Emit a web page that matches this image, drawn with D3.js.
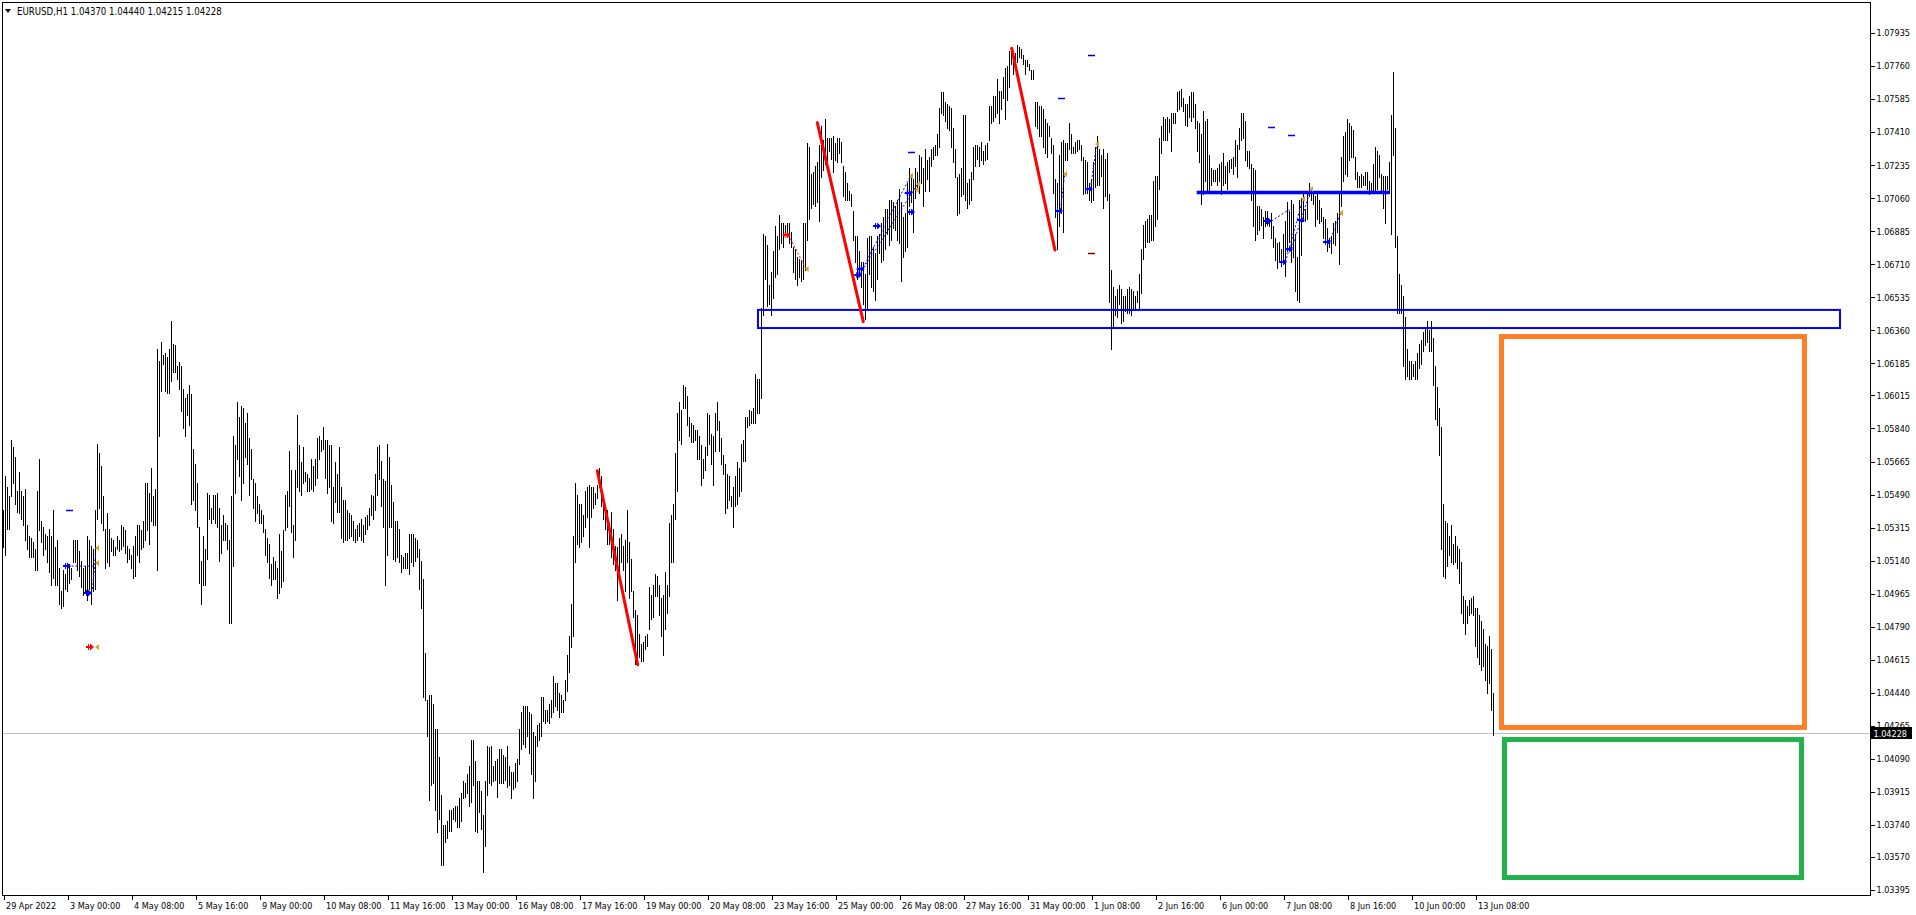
<!DOCTYPE html>
<html><head><meta charset="utf-8">
<script src="https://cdn.jsdelivr.net/npm/d3@7"></script>
<style>
html,body{margin:0;padding:0;background:#fff;overflow:hidden}
svg{display:block}
text{font-family:"DejaVu Sans Condensed","DejaVu Sans",sans-serif;font-size:9px;fill:#000}
text.hdr{font-size:9.6px}
</style></head><body>
<svg id="c" width="1916" height="915"></svg>
<script>
// ---------------- data ----------------
const symbol = "EURUSD,H1";
const lastOHLC = [1.04370, 1.04440, 1.04215, 1.04228];
const currentPrice = 1.04228;
const timeLabels = ["29 Apr 2022","3 May 00:00","4 May 08:00","5 May 16:00","9 May 00:00","10 May 08:00","11 May 16:00","13 May 00:00","16 May 08:00","17 May 16:00","19 May 00:00","20 May 08:00","23 May 16:00","25 May 00:00","26 May 08:00","27 May 16:00","31 May 00:00","1 Jun 08:00","2 Jun 16:00","6 Jun 00:00","7 Jun 08:00","8 Jun 16:00","10 Jun 00:00","13 Jun 08:00"];
const barsPerLabel = 32;
const priceTicks = ["1.07935","1.07760","1.07585","1.07410","1.07235","1.07060","1.06885","1.06710","1.06535","1.06360","1.06185","1.06015","1.05840","1.05665","1.05490","1.05315","1.05140","1.04965","1.04790","1.04615","1.04440","1.04265","1.04090","1.03915","1.03740","1.03570","1.03395"];

const highs = [
1.0541,1.0559,1.0553,1.0548,1.0578,1.0574,1.0569,1.0551,1.0561,1.0551,
1.0548,1.0552,1.0533,1.0527,1.0526,1.0524,1.0520,1.0551,1.0568,1.0535,
1.0532,1.0528,1.0527,1.0531,1.0527,1.0541,1.0521,1.0525,1.0510,1.0498,
1.0509,1.0507,1.0512,1.0512,1.0510,1.0525,1.0525,1.0525,1.0519,1.0514,
1.0510,1.0511,1.0527,1.0525,1.0522,1.0520,1.0541,1.0576,1.0571,1.0564,
1.0548,1.0531,1.0539,1.0531,1.0526,1.0525,1.0521,1.0527,1.0525,1.0533,
1.0532,1.0530,1.0522,1.0520,1.0517,1.0522,1.0527,1.0533,1.0533,1.0530,
1.0535,1.0555,1.0555,1.0550,1.0563,1.0548,1.0552,1.0626,1.0620,1.0630,
1.0623,1.0624,1.0622,1.0626,1.0641,1.0629,1.0628,1.0617,1.0619,1.0617,
1.0605,1.0600,1.0602,1.0607,1.0602,1.0573,1.0565,1.0555,1.0532,1.0514,
1.0527,1.0520,1.0550,1.0549,1.0542,1.0549,1.0549,1.0550,1.0542,1.0533,
1.0538,1.0534,1.0533,1.0525,1.0548,1.0580,1.0575,1.0598,1.0590,1.0596,
1.0595,1.0587,1.0592,1.0579,1.0573,1.0557,1.0555,1.0548,1.0544,1.0541,
1.0538,1.0531,1.0526,1.0523,1.0512,1.0516,1.0514,1.0510,1.0528,1.0519,
1.0530,1.0549,1.0551,1.0572,1.0562,1.0533,1.0562,1.0591,1.0575,1.0566,
1.0574,1.0561,1.0560,1.0558,1.0568,1.0564,1.0568,1.0579,1.0580,1.0578,
1.0585,1.0578,1.0578,1.0575,1.0575,1.0553,1.0566,1.0560,1.0574,1.0553,
1.0546,1.0546,1.0541,1.0539,1.0538,1.0535,1.0531,1.0533,1.0534,1.0536,
1.0533,1.0537,1.0538,1.0542,1.0549,1.0548,
1.0560,1.0574,1.0575,1.0567,1.0557,1.0556,1.0576,1.0569,1.0554,1.0545,
1.0535,1.0535,1.0531,1.0517,1.0516,1.0518,1.0518,1.0528,1.0528,1.0528,
1.0526,1.0525,1.0520,1.0514,1.0504,1.0465,1.0440,1.0443,1.0443,1.0438,
1.0425,1.0425,1.0410,1.0390,1.0374,1.0374,1.0376,1.0382,1.0382,1.0383,
1.0384,1.0384,1.0388,1.0391,1.0397,1.0396,1.0401,1.0405,1.0419,1.0419,
1.0408,1.0397,1.0397,1.0392,1.0379,1.0397,1.0416,1.0415,1.0416,1.0405,
1.0408,1.0409,1.0414,1.0414,1.0411,1.0410,1.0416,1.0405,1.0402,1.0402,
1.0407,1.0409,1.0425,1.0434,1.0437,1.0437,1.0437,1.0434,1.0433,1.0423,
1.0421,1.0427,1.0428,1.0442,1.0442,1.0435,1.0435,1.0438,1.0440,1.0453,
1.0449,1.0449,1.0444,1.0443,1.0440,1.0451,1.0464,1.0474,1.0491,1.0527,
1.0555,1.0549,1.0544,1.0544,1.0538,1.0551,1.0553,1.0554,1.0553,1.0553,
1.0550,1.0554,1.0563,1.0559,1.0544,1.0543,1.0541,1.0534,1.0540,1.0531,
1.0522,1.0521,1.0526,1.0528,1.0522,1.0525,1.0541,1.0524,1.0515,1.0498,
1.0488,1.0485,1.0475,1.0470,1.0471,1.0474,1.0475,1.0500,1.0496,1.0501,
1.0507,1.0506,1.0501,1.0494,1.0496,1.0508,1.0501,1.0534,1.0538,1.0544,
1.0571,1.0592,1.0598,1.0594,1.0607,1.0606,1.0601,1.0590,1.0587,1.0586,
1.0583,1.0583,1.0580,1.0575,1.0568,1.0574,1.0592,1.0591,1.0581,1.0580,
1.0592,1.0598,1.0588,1.0579,1.0570,1.0565,1.0560,1.0559,1.0548,1.0553,
1.0559,1.0566,1.0563,1.0576,1.0578,1.0590,1.0590,1.0594,
1.0593,1.0595,1.0613,1.0610,1.0610,1.0648,
1.0687,1.0686,1.0681,1.0660,1.0667,1.0678,1.0691,1.0686,1.0697,1.0693,
1.0693,1.0692,1.0693,1.0693,1.0688,1.0680,1.0679,1.0675,1.0674,1.0673,
1.0693,1.0693,1.0735,1.0733,1.0719,1.0720,1.0723,1.0725,1.0734,1.0744,
1.0737,1.0748,1.0738,1.0738,1.0738,1.0739,1.0735,1.0738,1.0738,1.0736,
1.0723,1.0720,1.0714,1.0710,1.0708,1.0699,1.0686,1.0686,1.0678,1.0672,
1.0672,1.0666,1.0685,1.0686,1.0686,1.0680,1.0677,1.0686,1.0687,1.0693,
1.0696,1.0700,1.0700,1.0705,1.0705,1.0704,1.0702,1.0705,1.0711,1.0704,
1.0696,1.0698,1.0714,1.0722,1.0719,1.0716,1.0722,1.0720,1.0729,1.0728,
1.0722,1.0732,1.0726,1.0728,1.0732,1.0733,1.0734,1.0740,1.0754,1.0762,
1.0762,1.0757,1.0756,1.0755,1.0754,1.0743,1.0732,1.0717,1.0719,1.0722,
1.0750,1.0750,1.0714,1.0716,1.0720,1.0733,1.0734,1.0734,1.0733,1.0736,
1.0731,1.0734,1.0735,1.0755,1.0755,1.0760,1.0760,1.0769,1.0763,1.0763,
1.0770,1.0775,1.0776,1.0784,1.0786,1.0782,1.0783,1.0787,1.0786,1.0785,
1.0782,1.0779,1.0779,1.0777,1.0774,1.0774,1.0757,1.0757,1.0755,1.0755,
1.0753,1.0748,1.0746,1.0744,1.0738,1.0734,1.0716,1.0714,1.0729,1.0736,
1.0737,1.0735,1.0735,1.0746,1.0740,1.0733,1.0736,1.0737,1.0737,1.0734,
1.0728,1.0726,1.0725,1.0714,1.0716,1.0725,1.0733,1.0739,1.0732,1.0729,
1.0732,1.0727,1.0730,1.0708,1.0668,1.0659,1.0654,1.0658,1.0660,1.0658,
1.0654,
1.0654,1.0658,1.0659,1.0658,1.0657,1.0654,1.0657,1.0666,1.0679,1.0692,
1.0694,1.0695,1.0697,1.0697,1.0715,1.0718,1.0718,1.0738,1.0744,1.0749,
1.0748,1.0749,1.0748,1.0751,1.0751,1.0751,1.0762,1.0763,1.0764,1.0759,
1.0756,1.0756,1.0760,1.0762,1.0762,1.0756,1.0747,1.0746,1.0740,1.0752,
1.0747,1.0748,1.0729,1.0722,1.0721,1.0721,1.0722,1.0724,1.0725,1.0730,
1.0723,1.0725,1.0726,1.0727,1.0728,1.0737,1.0734,1.0743,1.0751,1.0751,
1.0747,1.0731,1.0731,1.0724,1.0722,1.0721,1.0702,1.0702,1.0700,1.0696,
1.0699,1.0699,1.0695,1.0698,1.0691,1.0685,1.0682,1.0683,1.0679,1.0687,
1.0694,1.0704,1.0699,1.0705,1.0703,1.0687,1.0675,1.0705,1.0706,1.0708,
1.0700,1.0709,1.0714,1.0711,1.0708,1.0707,1.0708,1.0705,1.0701,1.0696,
1.0695,1.0690,1.0685,1.0686,1.0693,1.0694,1.0698,1.0709,1.0728,1.0739,
1.0741,1.0748,1.0746,1.0744,1.0742,1.0728,1.0720,1.0718,1.0719,1.0718,
1.0720,1.0720,1.0715,1.0714,1.0724,1.0733,1.0731,1.0729,1.0719,1.0718,
1.0718,1.0718,1.0725,1.0750,1.0773,1.0743,1.0686,1.0666,1.0660,1.0654,
1.0643,1.0626,1.0620,1.0620,1.0618,1.0620,1.0624,1.0629,1.0631,1.0635,
1.0637,1.0641,1.0636,1.0641,1.0632,1.0617,1.0606,1.0595,1.0585,1.0544,
1.0535,1.0534,1.0527,1.0533,1.0523,1.0527,1.0522,1.0520,1.0513,1.0495,
1.0493,1.0490,1.0493,1.0494,1.0495,1.0489,1.0489,1.0485,1.0482,1.0478,
1.0470,1.0469,1.0474,1.0467,1.0444
];
const lows = [
1.0521,1.0517,1.0531,1.0531,1.0548,1.0555,1.0544,1.0540,1.0539,1.0536,
1.0533,1.0525,1.0520,1.0516,1.0516,1.0516,1.0509,1.0509,1.0530,1.0524,
1.0517,1.0520,1.0513,1.0508,1.0501,1.0505,1.0501,1.0501,1.0491,1.0489,
1.0490,1.0499,1.0498,1.0502,1.0504,1.0513,1.0513,1.0509,1.0506,1.0500,
1.0496,1.0497,1.0493,1.0499,1.0491,1.0498,1.0499,1.0536,1.0542,1.0534,
1.0530,1.0510,1.0513,1.0511,1.0519,1.0517,1.0517,1.0520,1.0519,1.0520,
1.0522,1.0518,1.0513,1.0515,1.0510,1.0505,1.0506,1.0517,1.0513,1.0520,
1.0521,1.0525,1.0530,1.0523,1.0535,1.0533,1.0533,1.0509,1.0580,1.0604,
1.0618,1.0604,1.0603,1.0603,1.0609,1.0614,1.0614,1.0610,1.0605,1.0593,
1.0584,1.0580,1.0591,1.0586,1.0544,1.0546,1.0541,1.0532,1.0502,1.0491,
1.0501,1.0501,1.0515,1.0536,1.0534,1.0536,1.0534,1.0532,1.0514,1.0518,
1.0525,1.0525,1.0520,1.0481,1.0481,1.0511,1.0550,1.0568,1.0559,1.0546,
1.0555,1.0569,1.0565,1.0549,1.0557,1.0542,1.0535,1.0539,1.0534,1.0534,
1.0529,1.0517,1.0513,1.0505,1.0501,1.0504,1.0504,1.0494,1.0497,1.0500,
1.0503,1.0530,1.0532,1.0543,1.0529,1.0516,1.0525,1.0553,1.0551,1.0549,
1.0555,1.0556,1.0551,1.0551,1.0552,1.0551,1.0554,1.0558,1.0568,1.0572,
1.0573,1.0558,1.0550,1.0553,1.0535,1.0534,1.0545,1.0540,1.0540,1.0526,
1.0524,1.0525,1.0525,1.0526,1.0527,1.0525,1.0524,1.0525,1.0527,1.0525,
1.0524,1.0528,1.0531,1.0533,1.0538,1.0536,
1.0541,1.0549,1.0557,1.0543,1.0532,1.0501,1.0517,1.0532,1.0532,1.0515,
1.0514,1.0516,1.0513,1.0508,1.0510,1.0510,1.0510,1.0507,1.0513,1.0511,
1.0514,1.0516,1.0499,1.0489,1.0442,1.0440,1.0421,1.0387,1.0395,1.0396,
1.0382,1.0370,1.0377,1.0353,1.0353,1.0365,1.0367,1.0371,1.0371,1.0377,
1.0376,1.0373,1.0373,1.0376,1.0388,1.0389,1.0391,1.0384,1.0386,1.0395,
1.0371,1.0370,1.0381,1.0372,1.0349,1.0363,1.0390,1.0396,1.0395,1.0397,
1.0398,1.0389,1.0396,1.0396,1.0396,1.0398,1.0394,1.0395,1.0388,1.0393,
1.0394,1.0397,1.0406,1.0414,1.0417,1.0415,1.0421,1.0412,1.0401,1.0388,
1.0397,1.0416,1.0419,1.0421,1.0429,1.0428,1.0429,1.0428,1.0431,1.0434,
1.0437,1.0435,1.0431,1.0434,1.0434,1.0440,1.0445,1.0455,1.0468,1.0474,
1.0513,1.0523,1.0521,1.0524,1.0527,1.0532,1.0537,1.0521,1.0537,1.0542,
1.0544,1.0547,1.0553,1.0543,1.0536,1.0531,1.0523,1.0523,1.0516,1.0512,
1.0509,1.0493,1.0504,1.0513,1.0509,1.0498,1.0513,1.0494,1.0498,1.0484,
1.0459,1.0461,1.0463,1.0461,1.0461,1.0467,1.0469,1.0478,1.0483,1.0484,
1.0495,1.0495,1.0485,1.0474,1.0464,1.0478,1.0486,1.0495,1.0513,1.0513,
1.0536,1.0551,1.0578,1.0576,1.0595,1.0595,1.0586,1.0580,1.0577,1.0577,
1.0578,1.0568,1.0568,1.0554,1.0558,1.0562,1.0570,1.0576,1.0565,1.0554,
1.0572,1.0583,1.0572,1.0565,1.0560,1.0539,1.0542,1.0546,1.0543,1.0532,
1.0543,1.0544,1.0548,1.0551,1.0567,1.0567,1.0585,1.0586,
1.0587,1.0587,1.0587,1.0592,1.0592,1.0600,
1.0644,1.0663,1.0649,1.0650,1.0644,1.0653,1.0664,1.0666,1.0679,1.0682,
1.0680,1.0687,1.0686,1.0682,1.0680,1.0667,1.0663,1.0660,1.0664,1.0662,
1.0663,1.0668,1.0684,1.0695,1.0701,1.0703,1.0702,1.0704,1.0694,1.0717,
1.0721,1.0724,1.0725,1.0731,1.0727,1.0720,1.0726,1.0725,1.0730,1.0725,
1.0707,1.0705,1.0705,1.0705,1.0702,1.0684,1.0672,1.0663,1.0666,1.0659,
1.0650,1.0642,1.0647,1.0666,1.0659,1.0657,1.0652,1.0663,1.0677,1.0672,
1.0673,1.0679,1.0687,1.0681,1.0684,1.0690,1.0689,1.0684,1.0682,1.0662,
1.0675,1.0678,1.0680,1.0702,1.0704,1.0688,1.0706,1.0712,1.0709,1.0714,
1.0702,1.0710,1.0716,1.0710,1.0723,1.0727,1.0729,1.0729,1.0733,1.0751,
1.0750,1.0747,1.0743,1.0742,1.0733,1.0725,1.0717,1.0697,1.0698,1.0707,
1.0708,1.0705,1.0701,1.0703,1.0705,1.0716,1.0723,1.0727,1.0723,1.0726,
1.0724,1.0726,1.0727,1.0737,1.0746,1.0747,1.0749,1.0751,1.0746,1.0753,
1.0759,1.0748,1.0758,1.0765,1.0777,1.0772,1.0774,1.0778,1.0781,1.0780,
1.0777,1.0772,1.0776,1.0774,1.0769,1.0769,1.0744,1.0743,1.0739,1.0739,
1.0733,1.0730,1.0728,1.0739,1.0730,1.0709,1.0696,1.0679,1.0691,1.0698,
1.0688,1.0726,1.0726,1.0732,1.0730,1.0730,1.0730,1.0731,1.0732,1.0726,
1.0708,1.0709,1.0709,1.0705,1.0704,1.0705,1.0712,1.0713,1.0713,1.0718,
1.0701,1.0707,1.0705,1.0651,1.0626,1.0637,1.0644,1.0643,1.0650,1.0640,
1.0641,
1.0646,1.0645,1.0645,1.0644,1.0647,1.0647,1.0651,1.0648,1.0656,1.0674,
1.0680,1.0683,1.0683,1.0684,1.0684,1.0691,1.0695,1.0711,1.0730,1.0737,
1.0737,1.0737,1.0741,1.0731,1.0746,1.0746,1.0752,1.0753,1.0755,1.0752,
1.0745,1.0744,1.0749,1.0747,1.0749,1.0743,1.0731,1.0725,1.0703,1.0708,
1.0715,1.0709,1.0710,1.0713,1.0715,1.0715,1.0713,1.0715,1.0708,1.0713,
1.0714,1.0711,1.0720,1.0722,1.0719,1.0723,1.0717,1.0732,1.0737,1.0738,
1.0726,1.0723,1.0722,1.0705,1.0691,1.0684,1.0687,1.0689,1.0692,1.0685,
1.0691,1.0692,1.0691,1.0685,1.0680,1.0673,1.0669,1.0672,1.0670,1.0673,
1.0665,1.0679,1.0683,1.0672,1.0675,1.0657,1.0652,1.0651,1.0676,1.0694,
1.0694,1.0695,1.0707,1.0705,1.0703,1.0691,1.0695,1.0693,1.0694,1.0685,
1.0683,1.0678,1.0680,1.0677,1.0682,1.0681,1.0688,1.0671,1.0702,1.0715,
1.0719,1.0718,1.0726,1.0728,1.0728,1.0716,1.0712,1.0712,1.0712,1.0713,
1.0713,1.0711,1.0708,1.0709,1.0710,1.0709,1.0711,1.0717,1.0710,1.0701,
1.0693,1.0711,1.0710,1.0687,1.0729,1.0680,1.0645,1.0645,1.0645,1.0617,
1.0610,1.0612,1.0610,1.0610,1.0612,1.0610,1.0610,1.0616,1.0618,1.0625,
1.0628,1.0630,1.0625,1.0625,1.0607,1.0589,1.0586,1.0570,1.0520,1.0506,
1.0505,1.0511,1.0517,1.0513,1.0512,1.0513,1.0510,1.0502,1.0486,1.0481,
1.0475,1.0481,1.0485,1.0486,1.0485,1.0469,1.0463,1.0459,1.0456,1.0458,
1.0451,1.0444,1.0449,1.0435,1.04215
];

// drawn objects, anchored in bar index / price
const trendLines = [ // red
  {i0:296.9, p0:1.05616, i1:317.1, p1:1.04588},
  {i0:406.9, p0:1.07460, i1:429.9, p1:1.06406},
  {i0:504.1, p0:1.07854, i1:525.75, p1:1.06785}
];
const zoneRect = {i0:377.25, i1:918.25, p0:1.06468, p1:1.06372};
const levelLine = {i0:596.6, i1:693.25, p:1.0709};
const orangeBox = {i0:749, i1:900.5, p0:1.06327, p1:1.04256};
const greenBox = {i0:750.5, i1:899, p0:1.04192, p1:1.03461};
const dashes = [
  {i0:31.25,i1:34.75,p:1.05408,c:"#0000FF"},
  {i0:452.25,i1:455.75,p:1.07305,c:"#0000FF"},
  {i0:527.25,i1:530.75,p:1.07591,c:"#0000FF"},
  {i0:542.25,i1:545.75,p:1.07818,c:"#000080"},
  {i0:542.25,i1:545.75,p:1.06770,c:"#800000"},
  {i0:632.25,i1:635.75,p:1.07437,c:"#0000FF"},
  {i0:642.25,i1:645.75,p:1.07395,c:"#0000FF"}
];
const arrows = [ // right pointing arrows
  {i:31.75,p:1.05111,c:"#0000FF"},{i:42.25,p:1.04968,c:"#0000FF"},{i:43.25,p:1.04682,c:"#FF0000"},
  {i:391.6,p:1.06865,c:"#FF0000"},
  {i:428.6,p:1.06685,c:"#0000FF"},{i:427.4,p:1.06653,c:"#0000FF"},{i:436.75,p:1.06913,c:"#0000FF"},
  {i:452.6,p:1.07087,c:"#0000FF"},{i:453.75,p:1.06987,c:"#0000FF"},
  {i:527.75,p:1.06992,c:"#0000FF"},{i:542.75,p:1.07109,c:"#0000FF"},
  {i:632.25,p:1.06939,c:"#0000FF"},{i:639.75,p:1.06722,c:"#0000FF"},{i:642.75,p:1.06791,c:"#0000FF"},
  {i:648.75,p:1.06944,c:"#0000FF"},{i:661.75,p:1.06828,c:"#0000FF"}
];
const flags = [ // gold left triangles
  {i:46.75,p:1.05207},{i:46.75,p:1.05127},{i:46.75,p:1.04682},
  {i:401.6,p:1.06685},{i:453.75,p:1.07177},{i:457.4,p:1.07135},{i:456.6,p:1.07103},
  {i:530.75,p:1.07188},{i:546.75,p:1.07347},
  {i:649.75,p:1.07056},{i:653.75,p:1.07109},{i:668.75,p:1.06981}
];
const dotted = [
  {i0:34,p0:1.05111,i1:46,p1:1.05111,c:"#0000FF"},
  {i0:44.5,p0:1.04990,i1:46,p1:1.05170,c:"#0000FF"},
  {i0:392.5,p0:1.06865,i1:401,p1:1.06690,c:"#FF0000"},
  {i0:429.75,p0:1.06690,i1:453.25,p1:1.07172,c:"#0000FF"},
  {i0:428.25,p0:1.06658,i1:456.75,p1:1.07130,c:"#0000FF"},
  {i0:528.5,p0:1.07000,i1:530.5,p1:1.07180,c:"#0000FF"},
  {i0:543.5,p0:1.07110,i1:546.5,p1:1.07340,c:"#0000FF"},
  {i0:634,p0:1.06939,i1:643,p1:1.07000,c:"#0000FF"},
  {i0:641,p0:1.06722,i1:649.5,p1:1.07050,c:"#0000FF"},
  {i0:644,p0:1.06791,i1:653.5,p1:1.07100,c:"#0000FF"},
  {i0:663,p0:1.06828,i1:668.5,p1:1.06980,c:"#0000FF"}
];

// ---------------- drawing ----------------
const W = 1916, H = 915;
const plotL = 2.5, plotT = 2.5, plotR = 1870.5, plotB = 895.5;
const svg = d3.select("#c");
const x = d3.scaleLinear().domain([0, highs.length - 1]).range([3.5, 3.5 + 2 * (highs.length - 1)]);
const y = d3.scaleLinear().domain([1.03395, 1.07935]).range([890, 33]);

svg.append("rect").attr("width", W).attr("height", H).attr("fill", "#fff");

// current price line
svg.append("line").attr("x1", plotL).attr("x2", plotR).attr("y1", Math.round(y(currentPrice)) + 0.5).attr("y2", Math.round(y(currentPrice)) + 0.5)
  .attr("stroke", "#C0C0C0").attr("stroke-width", 1).attr("shape-rendering", "crispEdges");

// bars
const bars = svg.append("g").attr("shape-rendering", "crispEdges");
bars.selectAll("line").data(highs).join("line")
  .attr("x1", (d, i) => x(i)).attr("x2", (d, i) => x(i))
  .attr("y1", d => Math.round(y(d)))
  .attr("y2", (d, i) => Math.max(Math.round(y(lows[i])), Math.round(y(d)) + 1) + 1)
  .attr("stroke", "#000").attr("stroke-width", 1);

// zone rect
svg.append("rect")
  .attr("x", x(zoneRect.i0)).attr("y", y(zoneRect.p0))
  .attr("width", x(zoneRect.i1) - x(zoneRect.i0)).attr("height", y(zoneRect.p1) - y(zoneRect.p0))
  .attr("fill", "none").attr("stroke", "#0000FF").attr("stroke-width", 2);

// level line
svg.append("line").attr("x1", x(levelLine.i0)).attr("x2", x(levelLine.i1))
  .attr("y1", y(levelLine.p)).attr("y2", y(levelLine.p))
  .attr("stroke", "#0000FF").attr("stroke-width", 3.5);

// orange/green boxes
[[orangeBox, "#FF7F27"], [greenBox, "#22B14C"]].forEach(([b, c]) => {
  svg.append("rect")
    .attr("x", x(b.i0)).attr("y", y(b.p0))
    .attr("width", x(b.i1) - x(b.i0)).attr("height", y(b.p1) - y(b.p0))
    .attr("fill", "none").attr("stroke", c).attr("stroke-width", 5);
});

// red trend lines
svg.append("g").selectAll("line").data(trendLines).join("line")
  .attr("x1", d => x(d.i0)).attr("y1", d => y(d.p0))
  .attr("x2", d => x(d.i1)).attr("y2", d => y(d.p1))
  .attr("stroke", "#FF0000").attr("stroke-width", 3).attr("stroke-linecap", "round");

// dotted connectors
svg.append("g").selectAll("line").data(dotted).join("line")
  .attr("x1", d => x(d.i0)).attr("y1", d => y(d.p0))
  .attr("x2", d => x(d.i1)).attr("y2", d => y(d.p1))
  .attr("stroke", d => d.c).attr("stroke-width", 1).attr("stroke-dasharray", "2,2");

// dashes
svg.append("g").selectAll("line").data(dashes).join("line")
  .attr("x1", d => x(d.i0)).attr("x2", d => x(d.i1))
  .attr("y1", d => Math.round(y(d.p)) + 0.5).attr("y2", d => Math.round(y(d.p)) + 0.5)
  .attr("stroke", d => d.c).attr("stroke-width", 1.5);

// arrows
svg.append("g").selectAll("path").data(arrows).join("path")
  .attr("transform", d => `translate(${x(d.i)},${y(d.p)})`)
  .attr("d", "M-4,-1 L0,-1 L0,-3.5 L4,0 L0,3.5 L0,1 L-4,1 Z M-2,-3 L-1,-3 L-1,3 L-2,3 Z")
  .attr("fill", d => d.c);

// gold flags
svg.append("g").selectAll("path").data(flags).join("path")
  .attr("transform", d => `translate(${x(d.i)},${y(d.p)})`)
  .attr("d", "M-2,0 L2,-3 L2,3 Z")
  .attr("fill", "#DAA520");

// frame
svg.append("rect").attr("x", plotL).attr("y", plotT).attr("width", plotR - plotL).attr("height", plotB - plotT)
  .attr("fill", "none").attr("stroke", "#000").attr("stroke-width", 1).attr("shape-rendering", "crispEdges");

// price axis
const yAxis = d3.axisRight(y)
  .tickValues(priceTicks.map(Number))
  .tickFormat((d, i) => priceTicks[i])
  .tickSize(4).tickPadding(2);
const ya = svg.append("g").attr("transform", `translate(${plotR},0)`).call(yAxis);
ya.select(".domain").remove();
ya.selectAll("line").attr("stroke", "#000").attr("shape-rendering", "crispEdges");
ya.selectAll("text").attr("font-family", null).attr("font-size", null).attr("fill", "#000");

// current price label
const cy = y(currentPrice);
svg.append("rect").attr("x", plotR + 0.5).attr("y", Math.round(cy) - 6).attr("width", 41).attr("height", 12).attr("fill", "#000");
svg.append("text").attr("x", plotR + 3).attr("y", Math.round(cy) + 3.5).text(currentPrice.toFixed(5)).style("fill", "#fff");

// time axis
const tickIdx = timeLabels.map((d, i) => i * barsPerLabel);
const xAxis = d3.axisBottom(x).tickValues(tickIdx).tickFormat((d, i) => timeLabels[i]).tickSize(4).tickPadding(3);
const xa = svg.append("g").attr("transform", `translate(0,${plotB})`).call(xAxis);
xa.select(".domain").remove();
xa.selectAll("line").attr("stroke", "#000").attr("shape-rendering", "crispEdges");
xa.selectAll("text").attr("font-family", null).attr("font-size", null).attr("fill", "#000")
  .attr("text-anchor", "start").attr("x", 2);

// header
svg.append("path").attr("d", "M5,9 L11,9 L8,13 Z").attr("fill", "#000");
svg.append("text").attr("class", "hdr").attr("x", 17).attr("y", 14.5)
  .text(symbol + "  " + lastOHLC.map(v => v.toFixed(5)).join(" "));
</script>
</body></html>
